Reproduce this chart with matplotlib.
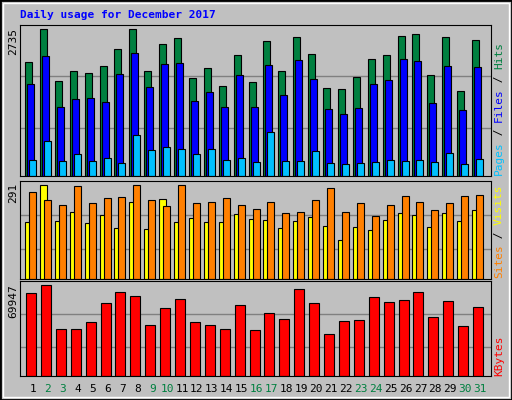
import matplotlib
matplotlib.use('Agg')
import matplotlib.pyplot as plt
import numpy as np

days = list(range(1, 32))
weekend = [2, 3, 9, 10, 16, 17, 23, 24, 30, 31]

hits_px = [127,28,184,154,160,139,88,28,154,73,55,175,145,199,106,187,64,154,52,103,205,208,172,118,106,49,43,166,52,214,61]
files_px = [193,109,262,238,235,247,163,100,202,133,130,244,217,262,166,262,136,226,121,178,268,283,265,193,181,118,124,250,139,271,142]
pages_px = [421,364,424,403,424,415,430,346,391,382,388,403,388,421,415,427,337,424,424,394,430,433,430,427,421,424,421,427,400,433,418]
visits_px = [136,28,133,106,139,115,154,79,157,70,136,124,136,136,112,127,130,154,133,121,148,190,151,160,130,109,115,151,109,133,103]
sites_px = [49,73,88,31,82,67,64,28,73,91,28,82,79,67,88,100,79,109,106,73,37,106,82,118,88,61,79,103,82,61,58]
kbytes_px = [352,328,460,460,439,382,349,361,448,397,370,439,448,460,388,463,412,430,340,382,475,436,433,364,379,373,349,424,376,451,394]

# estimated values
hits = [round((468 - p) / 440 * 2735) for p in hits_px]
files = [round((468 - p) / 440 * 2735) for p in files_px]
pages = [round((468 - p) / 440 * 2735) for p in pages_px]
visits = [round((303 - p) / 275 * 291) for p in visits_px]
sites = [round((303 - p) / 275 * 291) for p in sites_px]
kbytes = [round((602 - p) / 274 * 69947) for p in kbytes_px]

W, H = 512, 400
fig = plt.figure(figsize=(W / 100, H / 100), dpi=100)
fig.patch.set_facecolor('#C0C0C0')
mono = 'DejaVu Sans Mono'
step = 14.9
x0 = 20
x1 = 491

def day_px(day):
    return 33 + step * (day - 1)

def panel(y0, y1):
    ax = fig.add_axes([x0 / W, 1 - y1 / H, (x1 - x0) / W, (y1 - y0) / H])
    ax.set_facecolor('#C0C0C0')
    ax.set_xlim(1 - (33 - x0) / step, 1 + (x1 - 33) / step)
    ax.set_xticks([])
    ax.set_yticks([])
    for s in ax.spines.values():
        s.set_color('black')
    return ax

d = np.array(days)
kw = dict(align='edge', edgecolor='black', linewidth=0.8)
bw = 7 / step

ax1 = panel(25, 176)
ax1.set_ylim(0, max(hits) * 453 / 440)
for f in (0.33, 0.68):
    ax1.axhline(f * max(hits), color='#808080', lw=1, zorder=0)
ax1.bar(d - 8 / step, hits, bw, color='#008040', **kw)
ax1.bar(d - 6 / step, files, bw, color='#0000FF', **kw)
ax1.bar(d - 4 / step, pages, bw, color='#00C0FF', **kw)

ax2 = panel(181, 279)
ax2.set_ylim(0, max(visits + sites) * 286 / 275)
for f in (0.32, 0.68):
    ax2.axhline(f * max(visits + sites), color='#808080', lw=1, zorder=0)
ax2.bar(d - 8 / step, visits, bw, color='#FFFF00', **kw)
ax2.bar(d - 4 / step, sites, bw, color='#FF8000', **kw)

ax3 = panel(281, 376)
ax3.set_ylim(0, max(kbytes) * 285 / 274)
for f in (0.32, 0.68):
    ax3.axhline(f * max(kbytes), color='#808080', lw=1, zorder=0)
ax3.bar(d - 7 / step, kbytes, 10 / step, color='#FF0000', **kw)

# y max labels
fig.text(8 / W, 1 - 28 / H, str(max(hits)), rotation=90, ha='left', va='top', family=mono, fontsize=8)
fig.text(8 / W, 1 - 183 / H, str(max(visits + sites)), rotation=90, ha='left', va='top', family=mono, fontsize=8)
fig.text(8 / W, 1 - 284 / H, str(max(kbytes)), rotation=90, ha='left', va='top', family=mono, fontsize=8)

# right side legends
x_r = 494 / W
def stack(y_bottom, parts):
    y = y_bottom
    for txt, col in parts:
        fig.text(x_r, 1 - y / H, txt, rotation=90, ha='left', va='bottom', family=mono, fontsize=8, color=col)
        y -= len(txt) * 6.6
stack(175, [('Pages', '#00C0FF'), (' / ', '#000000'), ('Files', '#0000FF'), (' / ', '#000000'), ('Hits', '#008040')])
stack(278, [('Sites', '#FF8000'), (' / ', '#000000'), ('Visits', '#FFFF00')])
stack(376, [('KBytes', '#FF0000')])

# day labels
for day in days:
    fig.text(day_px(day) / W, 1 - 389 / H, str(day), ha='center', va='center', family=mono, fontsize=8,
             color='#008040' if day in weekend else 'black')

fig.text(20 / W, 1 - 15 / H, 'Daily usage for December 2017', color='#0000FF', family=mono,
         fontsize=8, fontweight='bold', va='center', ha='left')

# outer frame
fig.add_artist(plt.Rectangle((0, 0), 1, 1, transform=fig.transFigure, fill=False, edgecolor='black', lw=2))
fig.add_artist(plt.Rectangle((3 / W, 3 / H), 1 - 6 / W, 1 - 6 / H, transform=fig.transFigure,
                             fill=False, edgecolor='white', lw=1))

fig.savefig('out.png', dpi=100, facecolor=fig.get_facecolor())
